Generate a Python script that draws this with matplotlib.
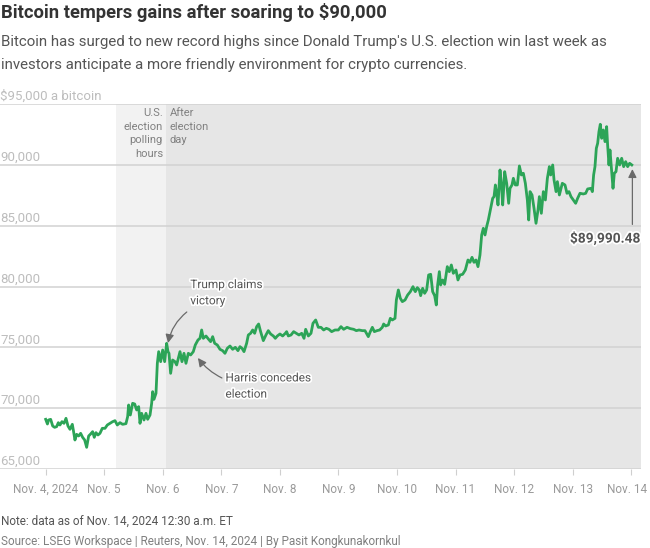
import matplotlib
matplotlib.use("Agg")
import matplotlib.pyplot as plt
import matplotlib.patheffects as pe
from matplotlib.transforms import ScaledTranslation

plt.rcParams['font.family'] = ['Roboto', 'DejaVu Sans']

title = "Bitcoin tempers gains after soaring to $90,000"
subtitle = ["Bitcoin has surged to new record highs since Donald Trump's U.S. election win last week as",
            "investors anticipate a more friendly environment for crypto currencies."]
note = "Note: data as of Nov. 14, 2024 12:30 a.m. ET"
source = "Source: LSEG Workspace | Reuters, Nov. 14, 2024 | By Pasit Kongkunakornkul"

x_ticks = list(range(11))
x_labels = ["Nov. 4, 2024", "Nov. 5", "Nov. 6", "Nov. 7", "Nov. 8", "Nov. 9", "Nov. 10",
            "Nov. 11", "Nov. 12", "Nov. 13", "Nov. 14"]
y_ticks = [65000, 70000, 75000, 80000, 85000, 90000, 95000]
y_labels = ["65,000", "70,000", "75,000", "80,000", "85,000", "90,000", "$95,000 a bitcoin"]

# days since Nov. 4
days = [0,.03,.05,.085,.12,.153,.187,.216,.244,.278,.313,.347,.381,.415,.455,.472,.5,.529,.563,.597,.631,.666,.7,.734,.768,.802,.83,.859,.893,.927,.967,1.013,1.053,1.098,1.144,1.184,1.223,1.269,1.314,1.371,1.4,1.417,1.446,1.485,1.52,1.554,1.588,1.611,1.639,1.679,1.713,1.742,1.782,1.81,1.827,1.85,1.884,1.907,1.93,1.964,1.998,2.032,2.066,
        2.089,2.106,2.134,2.168,2.208,2.237,2.265,2.294,2.328,2.362,2.396,2.436,2.476,2.521,2.555,2.601,2.635,2.664,2.692,2.738,2.783,2.817,2.852,2.886,2.931,2.977,3.022,3.062,3.102,3.148,3.193,3.239,3.284,3.318,3.353,3.387,3.432,3.461,3.5,3.535,3.569,3.603,3.637,3.671,3.717,3.762,3.802,3.842,3.888,3.922,3.956,4.001,4.047,4.093,
        4.115,4.144,4.19,4.235,4.281,4.326,4.372,4.412,4.44,4.486,4.531,4.565,4.611,4.656,4.702,4.747,4.793,4.838,4.884,4.941,4.998,5.043,5.089,5.146,5.203,5.26,5.305,5.351,5.408,5.453,5.51,5.544,5.579,5.613,5.658,5.704,5.749,5.772,5.806,5.852,5.886,5.92,5.966,5.989,6.023,6.057,6.091,6.137,6.182,6.228,6.273,6.296,
        6.313,6.347,6.381,6.404,6.438,6.472,6.506,6.54,6.575,6.609,6.643,6.671,6.694,6.723,6.745,6.78,6.814,6.859,6.893,6.928,6.962,7.007,7.041,7.076,7.121,7.167,7.212,7.246,7.281,7.315,7.349,7.383,7.417,7.446,7.474,7.503,7.531,
        7.56,7.6,7.634,7.657,7.68,7.702,7.725,7.759,7.782,7.805,7.839,7.873,7.907,7.93,7.964,7.987,8.021,8.055,8.09,8.124,8.158,8.192,8.226,8.249,8.272,8.306,8.34,8.374,8.408,8.431,8.465,8.499,8.534,8.568,8.602,8.625,8.659,8.682,8.716,8.739,8.773,
        8.823,8.869,8.903,8.937,8.971,9.011,9.051,9.085,9.125,9.182,9.222,9.256,9.313,9.336,9.358,9.381,9.404,9.427,9.449,9.472,9.495,9.523,9.552,9.58,9.597,9.62,9.637,9.666,9.689,9.711,9.74,9.768,9.802,9.837,9.871,9.905,9.939,9.973,10.01]
prices = [69083,68699,69028,69083,68535,68425,68480,68809,68617,68891,68754,69165,68535,68261,68672,68206,67384,67850,67713,67932,67603,67384,66781,67713,67877,68069,67603,67987,67795,67932,68343,68343,68617,68754,68891,68973,68617,68809,68672,68727,69302,70261,69439,70398,70343,69850,70124,68754,69576,69028,69576,69083,69439,70398,71357,70727,71220,73686,74645,73823,74782,73823,75330,
          74645,74508,72864,73960,73823,73549,74097,74645,73823,74508,73686,74508,74371,74645,75193,75604,75741,76426,75741,75933,75659,75467,75878,75330,75193,74837,74727,74508,74919,75111,74837,75001,74727,75056,74919,74645,75330,76015,76152,76426,76152,76700,76919,76289,75549,76015,76371,76097,75933,75741,75933,76097,75933,76152,
          76289,75933,76015,76289,76152,76015,76152,75741,76481,75933,76152,76974,77248,76645,76645,76426,76563,76481,76289,76426,76426,76700,76481,76645,76536,76481,76371,76426,76371,76371,75878,76289,76645,76289,76371,76426,76645,76919,76755,76837,77385,77248,77385,78892,79714,79029,78755,78892,79303,79577,79988,79714,
          79577,79906,79714,79248,79851,79440,79714,80947,81002,79577,79248,78481,80125,81221,80125,80536,80180,81632,81221,81769,81084,81358,80536,80947,81002,81358,82180,81988,82399,81988,82180,81632,82591,84235,84783,84235,84920,
          85468,86427,87249,87386,88345,87660,86701,89578,88482,86701,89441,88482,86838,88071,88345,88893,88345,88345,89907,89167,89304,88482,87112,85468,87797,87523,86427,85194,86290,87386,86016,87797,87112,88893,89852,89167,89989,88756,87797,88619,87523,
          88482,88345,87660,87797,87386,87112,86838,87249,87660,87605,87660,88016,88071,87797,89167,89852,91359,91770,92729,93332,92181,92866,91907,93140,91633,89989,91222,89441,88071,89304,89441,90537,89989,90537,89852,90263,89852,90126,89990]

W, H = 650, 548
GREEN = "#2ca457"
fig = plt.figure(figsize=(W/100, H/100), dpi=100)
ax = fig.add_axes([0, (H-469)/H, 641/W, (469-104)/H])
ax.set_xlim(-0.78, 10.167)
ax.set_ylim(65000, 95000)

ax.axvspan(1.2, 2.054, color="#f2f2f2", lw=0, zorder=0)
ax.axvspan(2.054, 10.167, color="#e6e6e6", lw=0, zorder=0)
ax.set_yticks(y_ticks, y_labels)
ax.set_xticks(x_ticks, x_labels)
ax.grid(axis='y', color="#d2d2d2", lw=1.1, zorder=1)
ax.set_axisbelow(True)
for s in ax.spines.values():
    s.set_visible(False)
ax.tick_params(axis='y', length=0, pad=0, labelsize=9.5, labelcolor="#bdbdbd")
ax.tick_params(axis='x', length=4, width=0.8, color="#cfcfcf", pad=6, labelsize=8.5, labelcolor="#9a9a9a")
lift = ScaledTranslation(0, 1/100, fig.dpi_scale_trans)
for t in ax.get_yticklabels():
    t.set_ha('left')
    t.set_va('bottom')
    t.set_transform(t.get_transform() + lift)
last = ax.get_xticklabels()[-1]
last.set_transform(last.get_transform() + ScaledTranslation(-4/100, 0, fig.dpi_scale_trans))

ax.plot(days, prices, color=GREEN, lw=2.0, solid_joinstyle='round', zorder=3)

halo = [pe.withStroke(linewidth=2.5, foreground="white")]
anno = dict(fontsize=8.5, color="#555555", path_effects=halo, zorder=6, linespacing=1.32, ha='left', va='center')
arrow = dict(arrowstyle="-|>,head_width=0.25,head_length=0.5", color="#6a6a6a", lw=0.9, shrinkA=0, shrinkB=0)

ax.annotate("", xy=(2.09, 75357), xytext=(2.41, 77905),
            arrowprops=dict(arrow, connectionstyle="arc3,rad=0.18"), zorder=6)
ax.text(2.47, 79490, "Trump claims\nvictory", **anno)
ax.annotate("", xy=(2.6, 74124), xytext=(3.01, 72480),
            arrowprops=dict(arrow, connectionstyle="arc3,rad=-0.12"), zorder=6)
ax.text(3.07, 71820, "Harris concedes\nelection", **anno)
ax.annotate("", xy=(10.02, 89650), xytext=(10.02, 85100), arrowprops=arrow, zorder=6)
ax.text(10.155, 83950, "$89,990.48", ha='right', va='center', fontsize=9.9, fontweight='bold',
        color="#555555", path_effects=halo, zorder=6)

def ftext(x, y, s, **kw):
    fig.text(x/W, 1-y/H, s, **kw)

ftext(1, 13, title, fontsize=13.2, fontweight='bold', color="#333333", va='center')
ftext(1, 42, subtitle[0], fontsize=10.8, color="#555555", va='center')
ftext(1, 65.5, subtitle[1], fontsize=10.8, color="#555555", va='center')
ftext(163, 108, "U.S.\nelection\npolling\nhours", fontsize=8.0, color="#808080", ha='right', va='top', linespacing=1.45)
ftext(170, 108, "After\nelection\nday", fontsize=8.0, color="#808080", ha='left', va='top', linespacing=1.45)
ftext(1, 521, note, fontsize=8.5, color="#555555", va='center')
ftext(1, 541, source, fontsize=8.45, color="#808080", va='center')

fig.savefig("out.png", dpi=100)
